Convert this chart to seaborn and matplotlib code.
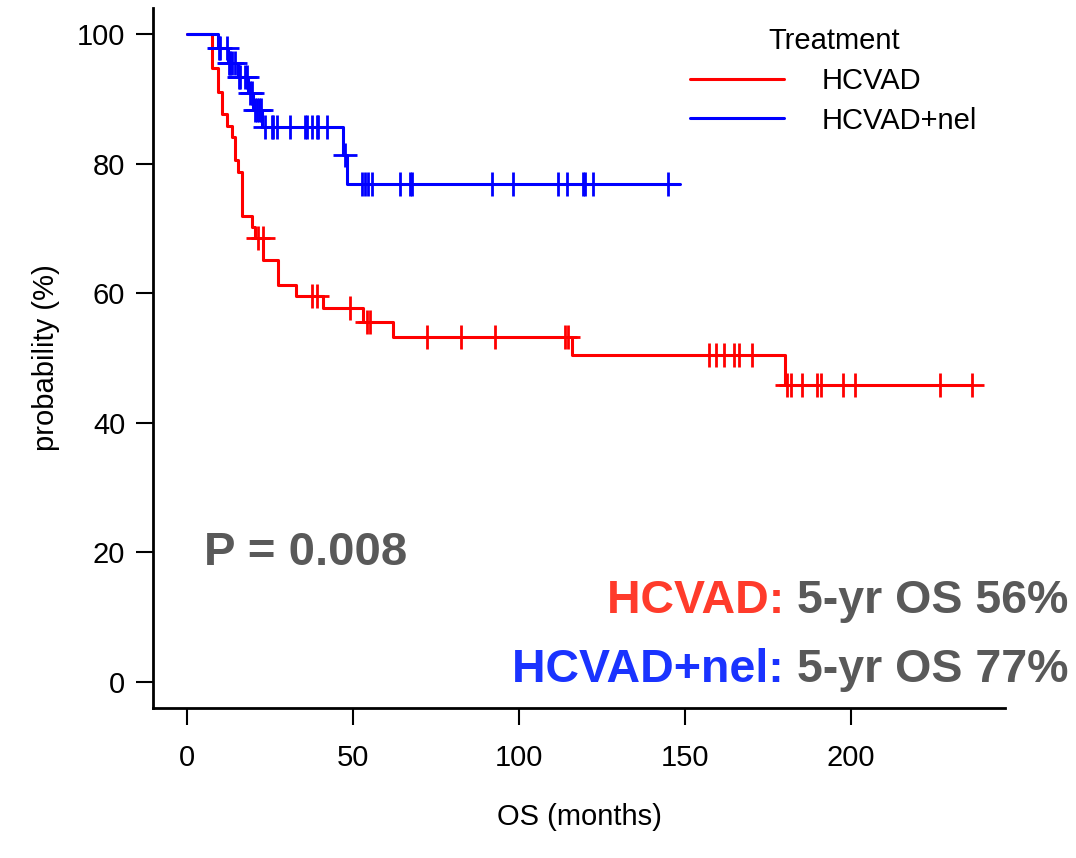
import numpy as np
import pandas as pd
import matplotlib
matplotlib.use("Agg")
import matplotlib.pyplot as plt
import seaborn as sns
from matplotlib.lines import Line2D

sns.set_theme(style="white")
plt.rcParams['font.family'] = ['Liberation Sans', 'DejaVu Sans']
plt.rcParams['text.color'] = 'black'
plt.rcParams['axes.labelcolor'] = 'black'

# step curves (time in months, survival %)
red_t = [0, 7.5, 9.5, 10.5, 12, 13.5, 14.5, 15.5, 16.5, 19.5, 20.5, 23, 27.5, 33, 41, 53, 62, 116, 180, 236.4]
red_s = [100, 94.8, 91.0, 87.7, 85.8, 84.1, 80.6, 78.7, 71.9, 70.2, 68.5, 65.1, 61.2, 59.6, 57.7, 55.6, 53.3, 50.4, 45.9, 45.9]
red_cens = [21.4, 22.9, 37.6, 39.2, 49, 54.2, 55.1, 72.3, 82.5, 92.8, 113.9, 114.8,
            157.2, 159.3, 161.7, 164.8, 166.3, 170.2, 180.7, 182, 185.2, 189.8, 191,
            197.6, 201.2, 226.8, 236.4]

blue_t = [0, 9.4, 12.4, 15.4, 18.4, 20, 22.6, 47, 48.2, 148.5]
blue_s = [100, 97.8, 95.5, 93.3, 90.9, 88.3, 85.6, 81.3, 76.9, 76.9]
blue_cens = [9.6, 10.1, 12.1, 12.6, 13.1, 13.6, 14.6, 15.6, 16.1, 17.6, 18.1, 19.1,
             19.6, 20.5, 21.0, 21.8, 22.3, 23.5, 25.6, 26, 27.1, 31, 35.5, 36.1, 37.6,
             39.2, 39.5, 42.2, 47.5, 52.7, 53.6, 54.5, 55.7, 64.2, 67.2, 67.8, 91.9,
             98.2, 111.7, 114.5, 119.3, 119.9, 122.3, 144.9]

RED = "#ff0000"
BLUE = "#0000ff"

def surv_at(t, times, surv):
    idx = np.searchsorted(times, t, side="right") - 1
    return surv[idx]

fig = plt.figure(figsize=(10.76, 8.58), dpi=100)
ax = fig.add_axes([0.1422, 0.1748, 0.934 - 0.1422, 0.9907 - 0.1748])

for t, s, c, cens in [(red_t, red_s, RED, red_cens), (blue_t, blue_s, BLUE, blue_cens)]:
    df = pd.DataFrame({"t": t, "s": s})
    sns.lineplot(data=df, x="t", y="s", drawstyle="steps-post", color=c, lw=2.2, ax=ax)
    cs = [surv_at(x, t, s) for x in cens]
    ax.scatter(cens, cs, marker="+", s=300, color=c, linewidths=2.0, zorder=3)

ax.set_xlim(-10.2, 246.4)
ax.set_ylim(-4, 104)
ax.set_xticks([0, 50, 100, 150, 200])
ax.set_yticks([0, 20, 40, 60, 80, 100])
ax.tick_params(axis="both", labelsize=21, length=12, width=1.5, direction="out",
               left=True, bottom=True, pad=8, colors="black")
ax.tick_params(axis="x", pad=14)
for sp in ["top", "right"]:
    ax.spines[sp].set_visible(False)
for sp in ["left", "bottom"]:
    ax.spines[sp].set_color("black")
    ax.spines[sp].set_linewidth(2)
ax.set_xlabel("OS (months)", fontsize=21, labelpad=22)
ax.set_ylabel("probability (%)", fontsize=21, labelpad=12)

handles = [Line2D([], [], color=RED, lw=2.2), Line2D([], [], color=BLUE, lw=2.2)]
leg = ax.legend(handles, ["HCVAD", "HCVAD+nel"], title="Treatment", fontsize=21,
                title_fontsize=21, frameon=False, loc="upper left",
                bbox_to_anchor=(0.6, 1.01), handlelength=3.2, handletextpad=1.3,
                labelspacing=0.4)

GRAY = "#595959"
ax.text(0.06, 0.221, "P = 0.008", transform=ax.transAxes, fontsize=34,
        fontweight="bold", color=GRAY, va="center")

fig.canvas.draw()
renderer = fig.canvas.get_renderer()
for y, label, col, pct in [(0.2995, "HCVAD: ", "#ff3b2b", "56%"),
                           (0.219, "HCVAD+nel: ", "#1a33ff", "77%")]:
    g = fig.text(0.993, y, "5-yr OS " + pct, ha="right", va="center",
                 fontsize=33.5, fontweight="bold", color=GRAY)
    bb = g.get_window_extent(renderer)
    fig.text(bb.x0 / fig.bbox.width, y, label, ha="right", va="center",
             fontsize=33.5, fontweight="bold", color=col)

fig.savefig("out.png", dpi=100)
